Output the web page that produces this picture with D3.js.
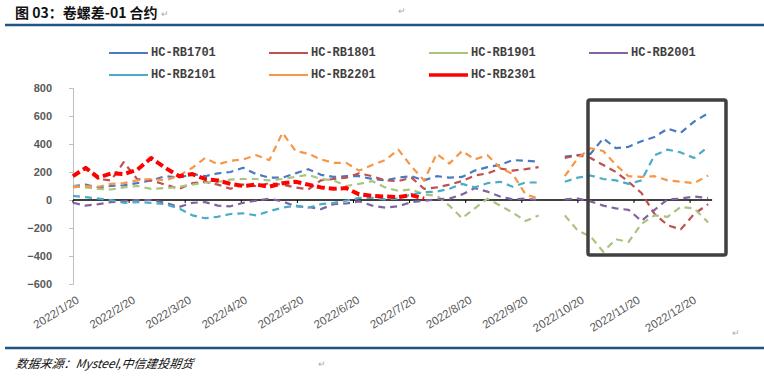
<!DOCTYPE html>
<html>
<head>
<meta charset="utf-8">
<script src="https://cdn.jsdelivr.net/npm/d3@7/dist/d3.min.js"></script>
<style>
  body { margin: 0; background: #fff; }
  svg { display: block; }
</style>
</head>
<body>
<div id="chart"></div>
<script>
// ---- data (weekly samples) ----
var dates = ["2022/1/20","2022/1/27","2022/2/3","2022/2/10","2022/2/17","2022/2/24","2022/3/3","2022/3/10","2022/3/17","2022/3/24",
    "2022/3/31","2022/4/7","2022/4/14","2022/4/21","2022/4/28","2022/5/5","2022/5/12","2022/5/19","2022/5/26","2022/6/2",
    "2022/6/9","2022/6/16","2022/6/23","2022/6/30","2022/7/7","2022/7/14","2022/7/21","2022/7/28","2022/8/4","2022/8/11",
    "2022/8/18","2022/8/25","2022/9/1","2022/9/8","2022/9/15","2022/9/22","2022/9/29","2022/10/6","2022/10/13","2022/10/20",
    "2022/10/27","2022/11/3","2022/11/10","2022/11/17","2022/11/24","2022/12/1","2022/12/8","2022/12/15","2022/12/22","2022/12/29"];

var rb1701 = [100,110,90,100,105,120,140,170,160,185, 170,190,200,230,185,160,160,190,220,180,
    165,170,170,150,140,160,170,140,170,160, 165,210,235,250,285,280,275,null,310,320,
    330,440,370,380,420,450,510,480,560,620];
var rb1801 = [170,225,150,140,270,150,140,110,80,120, 130,110,80,110,100,120,110,90,75,140,
    150,160,190,170,140,135,160,80,90,110, 135,175,190,225,210,220,235,null,300,320,
    300,250,200,130,50,-100,-180,-210,-100,-30];
var rb1901 = [100,90,80,75,90,100,80,85,95,110, 125,130,145,150,150,140,150,165,180,150,
    140,100,115,135,90,65,75,40,30,-40, -130,-60,10,-40,-90,-150,-110,null,-110,-220,
    -260,-370,-280,-300,-170,-110,-120,-50,-60,-160];
var rb2001 = [-20,-40,-30,-15,-10,0,0,-20,-50,-20, -15,-40,-45,-20,-5,10,-10,-45,-50,-65,
    -30,-25,-10,-40,-55,-45,-15,-5,5,10, 40,85,60,25,5,10,0,null,5,10,
    -10,-40,-60,-70,-150,-70,5,10,25,15];
var rb2101 = [30,20,10,0,-20,-15,-20,-30,-60,-110, -130,-120,-100,-95,-110,-80,-55,-40,-55,-30,
    -20,-5,15,15,5,10,40,55,60,80, 115,90,120,130,95,125,125,null,130,160,
    175,150,140,115,140,320,360,340,300,380];
var rb2201 = [90,100,95,115,120,140,150,140,175,230, 300,255,280,290,320,285,480,350,330,290,
    265,265,210,250,285,360,240,140,330,260, 350,290,320,230,185,40,10,null,170,300,
    370,350,250,170,165,170,140,130,120,175];
// 2301 stops at the end of July
var rb2301 = [170,230,160,190,185,215,300,230,170,185, 150,140,115,100,110,95,120,130,110,90,
    80,85,40,30,25,20,35,10];

var seriesNames = ["HC-RB1701","HC-RB1801","HC-RB1901","HC-RB2001","HC-RB2101","HC-RB2201","HC-RB2301"];
var seriesValues = [rb1701, rb1801, rb1901, rb2001, rb2101, rb2201, rb2301];
var seriesColors = ["#4a7ac0","#c0504d","#a9c47f","#8064a2","#4bacc6","#f79646","#ff0000"];

var tickLabels = ["2022/1/20","2022/2/20","2022/3/20","2022/4/20","2022/5/20","2022/6/20",
    "2022/7/20","2022/8/20","2022/9/20","2022/10/20","2022/11/20","2022/12/20"];
var endLabel = "2022/12/31";
var yTicks = [-600,-400,-200,0,200,400,600,800];

// ---- layout ----
var W = 764, H = 378;
var plotLeft = 73, monthW = 56.1, plotTop = 88, plotBottom = 284;

var parse = d3.timeParse("%Y/%m/%d");

var svg = d3.select("#chart")
    .append("svg")
        .attr("width", W)
        .attr("height", H)
        .style("font-family", "'Liberation Sans', Arial, sans-serif");

// excel spaces the months evenly, so the time scale is piecewise over the tick dates
var xDomain = tickLabels.map(parse).concat([parse(endLabel)]);
var xRange = tickLabels.map(function(d, i){ return plotLeft + i*monthW; });
xRange.push(plotLeft + 11*monthW + 22);
var x = d3.scaleTime().domain(xDomain).range(xRange);

var y = d3.scaleLinear()
    .domain([-600, 800])
    .range([plotBottom, plotTop]);

// ---- title + rules (word doc framing) ----
svg.append("text")
    .attr("x", 15).attr("y", 18)
    .attr("font-family", "'Noto Sans CJK SC', sans-serif")
    .attr("font-weight", "bold")
    .attr("font-size", "14px")
    .attr("fill", "#111")
    .text("图 03：卷螺差-01 合约");
svg.append("text").attr("x", 161).attr("y", 17).attr("font-size", "9px").attr("fill", "#aaa").text("↵");
svg.append("text").attr("x", 398).attr("y", 14).attr("font-size", "9px").attr("fill", "#aaa").text("↵");

svg.append("line")
    .attr("x1", 5).attr("x2", W)
    .attr("y1", 25).attr("y2", 25)
    .attr("stroke", "#1f5584")
    .attr("stroke-width", 2.5);

svg.append("line")
    .attr("x1", 5).attr("x2", W)
    .attr("y1", 348).attr("y2", 348)
    .attr("stroke", "#1f5584")
    .attr("stroke-width", 2.5);

svg.append("text")
    .attr("x", 15).attr("y", 368)
    .attr("font-family", "'Noto Sans CJK SC', sans-serif")
    .attr("font-style", "italic")
    .attr("font-size", "12px")
    .attr("fill", "#111")
    .attr("transform", "skewX(-8) translate(52,0)")
    .text("数据来源：Mysteel,中信建投期货");
svg.append("text").attr("x", 318).attr("y", 367).attr("font-size", "9px").attr("fill", "#aaa").text("↵");
svg.append("text").attr("x", 732).attr("y", 336).attr("font-size", "9px").attr("fill", "#aaa").text("↵");

// ---- legend ----
var legend = svg.append("g").attr("class", "legend");
seriesNames.forEach(function(name, i){
    var col = i % 4, row = Math.floor(i / 4);
    var g = legend.append("g")
        .attr("transform", "translate(" + (109 + col*160) + "," + (53 + row*22) + ")");
    g.append("line")
        .attr("x1", 0).attr("x2", 39)
        .attr("stroke", seriesColors[i])
        .attr("stroke-width", i == 6 ? 3.5 : 2);
    g.append("text")
        .attr("x", 42).attr("y", 0)
        .attr("dominant-baseline", "middle")
        .attr("font-family", "'Liberation Mono', monospace")
        .attr("font-weight", "bold")
        .attr("font-size", "12px")
        .attr("fill", "#404040")
        .text(name);
});

// ---- y axis ----
var yAxis = svg.append("g")
    .attr("transform", "translate(" + plotLeft + ",0)")
    .call(d3.axisLeft(y).tickValues(yTicks).tickSize(4).tickPadding(17));
yAxis.select(".domain").attr("stroke", "#bfbfbf");
yAxis.selectAll(".tick line").attr("stroke", "#bfbfbf");
yAxis.selectAll(".tick text")
    .attr("font-family", "'Liberation Sans', Arial, sans-serif")
    .attr("font-size", "11px")
    .attr("font-weight", "bold")
    .attr("fill", "#595959");

// ---- x axis sits on the zero line ----
var x0 = x(parse(dates[0])), x1 = x(parse(endLabel));
svg.append("line")
    .attr("x1", x0).attr("x2", x1)
    .attr("y1", y(0)).attr("y2", y(0))
    .attr("stroke", "#000")
    .attr("stroke-width", 1.5);

svg.selectAll(".month-tick")
    .data(tickLabels)
    .enter()
    .append("line")
    .attr("class", "month-tick")
    .attr("x1", function(d){ return x(parse(d)); })
    .attr("x2", function(d){ return x(parse(d)); })
    .attr("y1", y(0)).attr("y2", y(0) + 3)
    .attr("stroke", "#000");

svg.selectAll(".x-label")
    .data(tickLabels)
    .enter()
    .append("text")
    .attr("class", "x-label")
    .attr("transform", function(d){ return "translate(" + (x(parse(d)) + 7) + ",302) rotate(-32)"; })
    .attr("text-anchor", "end")
    .attr("font-size", "11.5px")
    .attr("fill", "#595959")
    .text(function(d){ return d; });

// ---- series ----
var line = d3.line()
    .defined(function(d){ return d.v != null; })
    .x(function(d){ return x(d.date); })
    .y(function(d){ return y(d.v); });

seriesValues.forEach(function(vals, i){
    var data = vals.map(function(v, j){ return { date: parse(dates[j]), v: v }; });
    svg.append("path")
        .datum(data)
        .attr("fill", "none")
        .attr("stroke", seriesColors[i])
        .attr("stroke-width", i == 6 ? 4 : 2.2)
        .attr("stroke-dasharray", i == 6 ? "8,4" : "7,5")
        .attr("stroke-linejoin", "round")
        .attr("d", line);
});

// highlight box around the last quarter
svg.append("rect")
    .attr("x", 588).attr("y", 100)
    .attr("width", 138).attr("height", 155)
    .attr("rx", 2)
    .attr("fill", "none")
    .attr("stroke", "#404040")
    .attr("stroke-width", 3.5);
</script>
</body>
</html>
